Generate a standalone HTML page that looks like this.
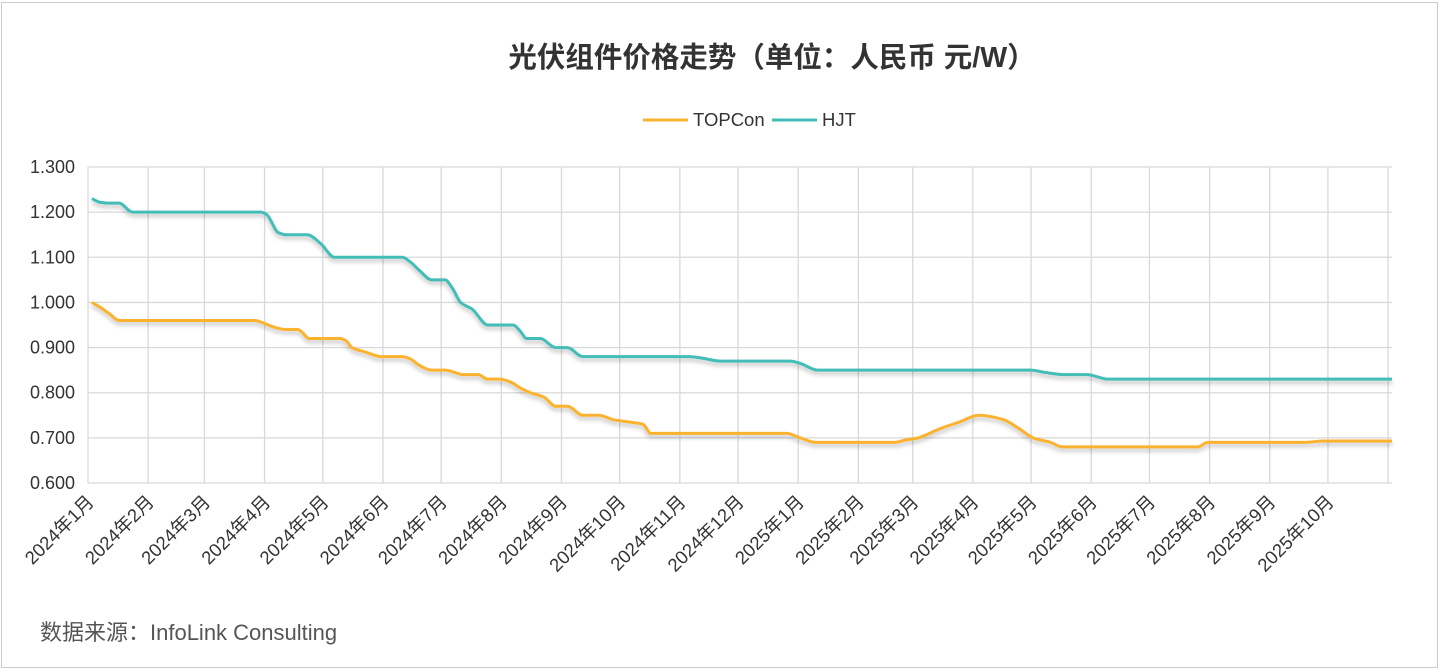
<!DOCTYPE html>
<html><head><meta charset="utf-8"><style>
html,body{margin:0;padding:0;background:#fff}
body{width:1441px;height:671px;overflow:hidden;font-family:"Liberation Sans","Noto Sans CJK SC",sans-serif}
.frame{position:absolute;left:1px;top:2px;width:1437px;height:666px;border:1px solid #ccc;box-sizing:border-box}
</style></head><body>
<div class="frame"></div>
<svg id="chart" width="1441" height="671" style="position:absolute;left:0;top:0">
<defs><filter id="sh" x="-5%" y="-20%" width="110%" height="140%"><feDropShadow dx="0" dy="3" stdDeviation="2" flood-color="#000" flood-opacity="0.25"/></filter></defs>
<text x="772" y="67" text-anchor="middle" font-size="28.5" font-weight="bold" fill="#333">光伏组件价格走势（单位：人民币 元/W）</text>
<g><line x1="643" y1="120" x2="688" y2="120" stroke="#FBB22F" stroke-width="3"/><text x="693" y="126" font-size="18.5" fill="#333">TOPCon</text></g>
<g><line x1="772" y1="120" x2="817" y2="120" stroke="#42BDB7" stroke-width="3"/><text x="822" y="126" font-size="18.5" fill="#333">HJT</text></g>
<g id="grid"></g><g id="axes"></g><g id="series"></g>
<text x="40" y="640" font-size="22" fill="#555">数据来源：InfoLink Consulting</text>
</svg>
<script>
const yTicks=[0.6,0.7,0.8,0.9,1.0,1.1,1.2,1.3];
const monthLabels=["2024年1月","2024年2月","2024年3月","2024年4月","2024年5月","2024年6月","2024年7月","2024年8月","2024年9月","2024年10月","2024年11月","2024年12月","2025年1月","2025年2月","2025年3月","2025年4月","2025年5月","2025年6月","2025年7月","2025年8月","2025年9月","2025年10月",""];
const hjtDays=[2,6,11,16,23,89,92,98,102,113,120,127,132,162,166,171,177,184,188,192,198,206,219,223,226,233,241,247,255,310,316,326,362,367,376,486,493,503,515,522,525,672];
const hjtValues=[1.23,1.222,1.22,1.22,1.20,1.20,1.195,1.155,1.15,1.15,1.13,1.10,1.10,1.10,1.09,1.07,1.05,1.05,1.03,1.00,0.985,0.95,0.95,0.935,0.92,0.92,0.90,0.90,0.88,0.88,0.877,0.87,0.87,0.865,0.85,0.85,0.845,0.84,0.84,0.833,0.83,0.83];
const topconDays=[2,6,11,16,22,86,90,96,102,108,110,114,121,130,133,136,143,151,162,166,171,177,184,189,193,201,206,212,218,223,228,235,241,247,255,263,271,279,286,290,295,357,360,367,375,416,421,428,431,439,449,459,464,472,480,487,496,502,572,577,627,637,672];
const topconValues=[1.00,0.99,0.975,0.96,0.96,0.96,0.955,0.945,0.94,0.94,0.935,0.92,0.92,0.92,0.915,0.90,0.89,0.88,0.88,0.875,0.86,0.85,0.85,0.845,0.84,0.84,0.83,0.83,0.823,0.81,0.80,0.79,0.77,0.77,0.75,0.75,0.74,0.735,0.73,0.71,0.71,0.71,0.71,0.70,0.69,0.69,0.695,0.70,0.705,0.72,0.735,0.75,0.748,0.74,0.72,0.70,0.69,0.68,0.68,0.69,0.69,0.693,0.693];
const NS='http://www.w3.org/2000/svg';
const X0=88,X1=1392,Y0=483,Y1=167,D0=0,D1=672,V0=0.6,V1=1.3;
const xs=d=>X0+(d-D0)/(D1-D0)*(X1-X0);
const ys=v=>Y0-(v-V0)/(V1-V0)*(Y0-Y1);
function mk(tag,attrs,parent){const e=document.createElementNS(NS,tag);for(const k in attrs)e.setAttribute(k,attrs[k]);parent.appendChild(e);return e;}
const grid=document.getElementById('grid'),axes=document.getElementById('axes'),series=document.getElementById('series');
yTicks.forEach(v=>{
  const l=mk('line',{x1:X0,x2:X1,y1:ys(v),y2:ys(v),stroke:'#d9d9d9','stroke-width':1.3},grid);
  
  
  const t=mk('text',{x:X0-13,y:ys(v)+6,'text-anchor':'end','font-size':18,fill:'#333'},axes);
  t.textContent=v.toFixed(3);
  
  
});
monthLabels.forEach((lab,i)=>{
  const y=2024+Math.floor(i/12),m=i%12;
  const d=Math.round((Date.UTC(y,m,1)-Date.UTC(2024,0,1))/864e5);
  const x=xs(d);
  const l=mk('line',{x1:x,x2:x,y1:Y1,y2:Y0,stroke:'#d9d9d9','stroke-width':1.3},grid);
  
  
  if(lab){
    const t=mk('text',{x:x+7,y:Y0+20,'text-anchor':'end','font-size':18.5,fill:'#333',transform:`rotate(-45 ${x+7} ${Y0+20})`},axes);
    t.textContent=lab;
    
    
  }
});
function monotone(px,py){
  const n=px.length,dx=[],s=[],m=[];
  for(let i=0;i<n-1;i++){dx[i]=px[i+1]-px[i];s[i]=(py[i+1]-py[i])/dx[i];}
  m[0]=s[0];m[n-1]=s[n-2];
  for(let i=1;i<n-1;i++){m[i]=(s[i-1]*s[i]<=0)?0:(dx[i-1]+dx[i])*3/((2*dx[i]+dx[i-1])/s[i-1]+(dx[i]+2*dx[i-1])/s[i]);}
  let d=`M${px[0]},${py[0]}`;
  for(let i=0;i<n-1;i++){const h=dx[i]/3;d+=`C${px[i]+h},${py[i]+m[i]*h} ${px[i+1]-h},${py[i+1]-m[i+1]*h} ${px[i+1]},${py[i+1]}`;}
  return d;
}
function draw(days,vals,color,name){
  const p=mk('path',{d:monotone(days.map(xs),vals.map(ys)),fill:'none',stroke:color,'stroke-width':3,filter:'url(#sh)','stroke-linejoin':'round'},series);
  
  
}
draw(hjtDays,hjtValues,'#42BDB7','hjt-line');
draw(topconDays,topconValues,'#FBB22F','topcon-line');
</script>
</body></html>
